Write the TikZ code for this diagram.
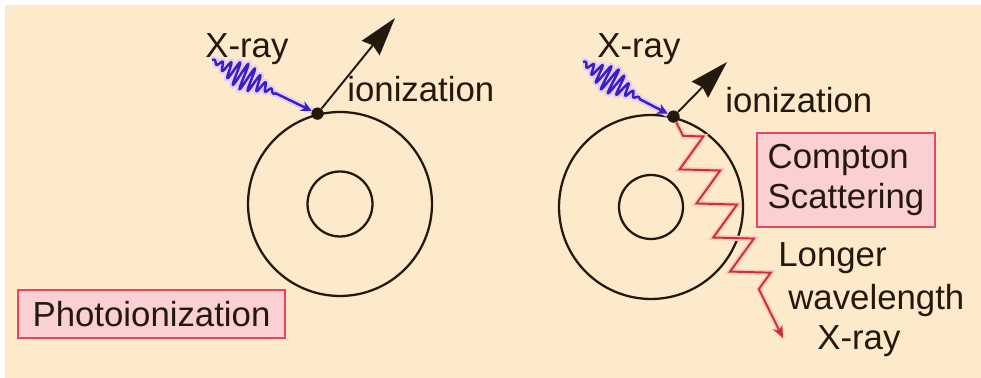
\documentclass[tikz,border=0pt]{standalone}
\usepackage{fontspec}
\setmainfont{Liberation Sans}
\usetikzlibrary{arrows.meta,decorations.pathmorphing}

\definecolor{cream}{RGB}{253,234,202}
\definecolor{inkbrown}{RGB}{35,25,15}
\definecolor{xrayblue}{RGB}{60,30,200}
\definecolor{xrayhalo}{RGB}{228,208,240}
\definecolor{scatred}{RGB}{200,50,55}
\definecolor{scathalo}{RGB}{250,200,190}
\definecolor{boxred}{RGB}{230,70,95}
\definecolor{boxpink}{RGB}{250,208,210}

\begin{document}
\begin{tikzpicture}[x=0.02cm,y=0.02cm,
  font=\fontsize{19.8pt}{23.3pt}\selectfont, text=inkbrown,
  shell/.style={draw=inkbrown,line width=1.3pt,circle,inner sep=0pt},
  electron/.style={fill=inkbrown,circle,inner sep=0pt,minimum size=7pt},
  txt/.style={anchor=base west,inner sep=0pt},
  tagbox/.style={draw=boxred,fill=boxpink,line width=1.6pt,inner sep=0pt},
  ionarrow/.style={draw=inkbrown,line width=1.1pt,-{Stealth[length=22pt,width=13pt,inset=2pt]}},
  xwave/.style={xrayblue,line width=1.4pt,-{Stealth[length=6pt,width=6pt]},
    preaction={draw=xrayhalo,line width=4pt,-}},
  scatwave/.style={scatred,line width=1.1pt,-{Stealth[length=7pt,width=6pt]},
    preaction={draw=scathalo,line width=3pt,-},
    decorate,decoration={zigzag,segment length=0.76cm,amplitude=0.36cm,
    pre length=0.3cm,post length=0.9cm}}]

  \fill[white] (0,0) rectangle (981,378);
  \fill[cream] (5,0) rectangle (981,373);
  \useasboundingbox (0,0) rectangle (981,378);

  % photoionization
  \node[shell,minimum size=3.68cm] (outerL) at (340,174) {};
  \node[shell,minimum size=1.3cm] (innerL) at (340,174) {};
  \node[electron] (dotL) at (outerL.104) {};
  \coordinate (tipL) at (395,360);
  \draw[xwave,shift={(212,318)},rotate=-27.6]
    plot[domain=0:72,samples=240,smooth] (\x,{13*exp(-((\x-36)*(\x-36))/500)*sin(\x*45)}) -- (dotL);
  \draw[ionarrow] (dotL) -- (tipL);
  \node[txt] (xrayL) at (205,320) {X-ray};
  \node[txt] (ionL) at (347,276) {ionization};
  \node[tagbox,minimum width=5.34cm,minimum height=0.96cm] (photo) at (151.5,64) {Photoionization};

  % compton scattering
  \node[shell,minimum size=3.68cm] (outerR) at (651,171) {};
  \node[shell,minimum size=1.28cm] (innerR) at (651,171) {};
  \node[electron] (dotR) at (outerR.76) {};
  \coordinate (tipR) at (727,316);
  \coordinate (scatend) at (783,40);
  \draw[xwave,shift={(583,316)},rotate=-33.2]
    plot[domain=0:68,samples=240,smooth] (\x,{13*exp(-((\x-33)*(\x-33))/450)*sin(\x*45)}) -- (dotR);
  \draw[ionarrow] (dotR) -- (tipR);
  \draw[scatwave] (dotR) -- (scatend);
  \node[txt] (xrayR) at (597,320) {X-ray};
  \node[txt] (ionR) at (725,265) {ionization};
  \node[tagbox,align=left,minimum width=3.56cm,minimum height=1.88cm] (compton) at (846,198) {Compton\\Scattering};
  \node[txt] (longer) at (778,111) {Longer};
  \node[txt] (wavelen) at (788,68) {wavelength};
  \node[txt] (xrayS) at (817,28) {X-ray};
\end{tikzpicture}
\end{document}
